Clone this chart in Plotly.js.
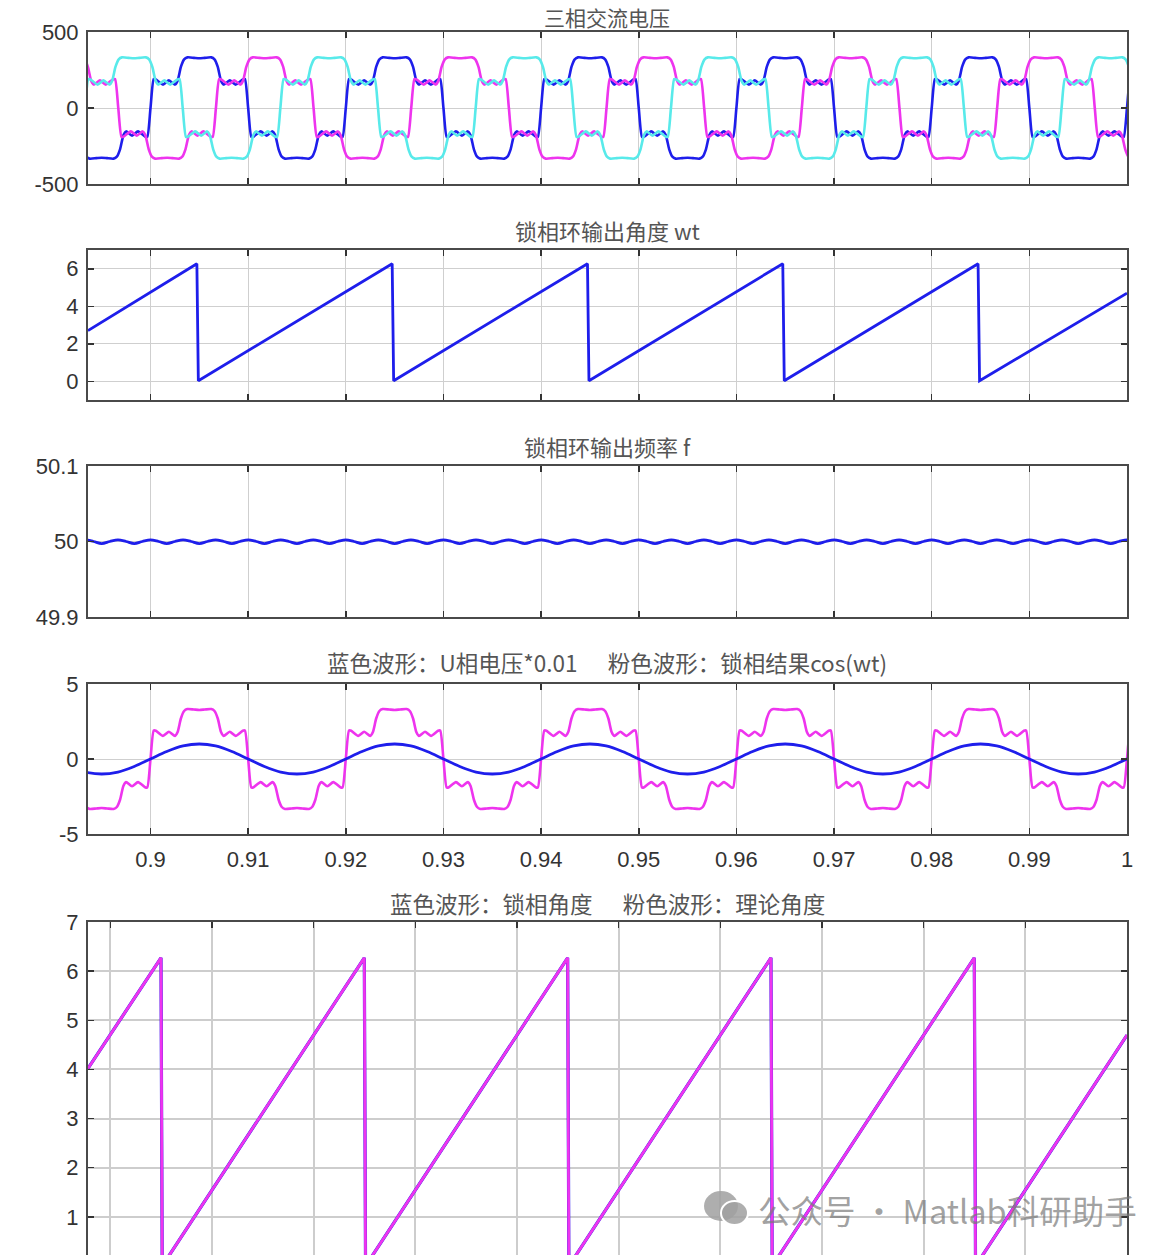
<!DOCTYPE html>
<html><head><meta charset="utf-8">
<script src="https://cdn.plot.ly/plotly-3.0.1.min.js"></script>
<style>
html,body{margin:0;padding:0;background:#fff;overflow:hidden;width:1171px;height:1255px}
#wrap{width:1171px;height:1255px;overflow:hidden;position:relative}
#plot{width:1171px;height:1300px}
</style>
</head><body><div id="wrap"><div id="plot"></div></div>
<script>
// ---------------- data ----------------
// time axis (s)
const xRange14 = [0.8936, 1.0];
const xRange5 = [0.8978, 1.0];
const xTickVals = [0.9, 0.91, 0.92, 0.93, 0.94, 0.95, 0.96, 0.97, 0.98, 0.99, 1.0];
const xTickLabels = ['0.9', '0.91', '0.92', '0.93', '0.94', '0.95', '0.96', '0.97', '0.98', '0.99', '1'];

// one cycle of phase voltage (V) vs. phase (deg) measured from the positive-plateau centre
const cycleDeg = [-180, -170, -158, -152, -146, -140, -135, -124, -113, -100, -96, -90, -84, -80, -67, -56, -45, -40, -34, -28, -22, -10, 0, 10, 22, 28, 34, 40, 45, 56, 67, 80, 84, 90, 96, 100, 113, 124, 135, 140, 146, 152, 158, 170];
const cycleVolt = [-327, -330, -333, -320, -270, -180, -154, -182, -154, -188, -190, 0, 190, 188, 154, 182, 154, 180, 270, 320, 333, 330, 327, 330, 333, 320, 270, 180, 154, 182, 154, 188, 190, 0, -190, -188, -154, -182, -154, -180, -270, -320, -333, -330];
// plateau-centre times of the three phases (s) and period
const peakBlue = 0.9050, peakMagenta = 0.9117, peakCyan = 0.8983;
const period = 0.02;

// PLL angle wt (rad): sawtooth corner points
const wtTime = [0.8936, 0.90475, 0.90490, 0.92475, 0.92490, 0.94475, 0.94490, 0.96475, 0.96490, 0.98475, 0.98490, 1.0];
const wtVal  = [2.70, 6.27, 0.03, 6.27, 0.03, 6.27, 0.03, 6.27, 0.03, 6.27, 0.03, 4.70];

// bottom panel: locked angle (blue) and theoretical angle (pink), sawtooth corner points
const lockTime = [0.8978, 0.90498, 0.90510, 0.92498, 0.92510, 0.94498, 0.94510, 0.96498, 0.96510, 0.98498, 0.98510, 1.0];
const lockVal  = [4.02, 6.27, 0.00, 6.27, 0.00, 6.27, 0.00, 6.27, 0.00, 6.27, 0.00, 4.70];
const thTime = [0.8978, 0.90498, 0.90510, 0.92498, 0.92510, 0.94498, 0.94510, 0.96498, 0.96510, 0.98498, 0.98510, 1.0];
const thVal  = [4.02, 6.27, 0.00, 6.27, 0.00, 6.27, 0.00, 6.27, 0.00, 6.27, 0.00, 4.70];

// PLL frequency ripple: one ripple period (s) and its shape
const ripplePeriod = 0.02 / 6;
const rippleFrac = [0, 0.25, 0.5, 0.75];
const rippleVal = [50.0022, 50.0000, 49.9972, 50.0000];
const rippleStart = 0.8900;

// cos(wt) one cycle, phase (deg) from its peak
const cosDeg = [-180, -150, -120, -90, -60, -30, 0, 30, 60, 90, 120, 150];
const cosVal = [-1.0, -0.87, -0.5, 0.0, 0.5, 0.87, 1.0, 0.87, 0.5, 0.0, -0.5, -0.87];
const cosPeak = 0.9050;

// ---------------- build series from the read shapes ----------------
function tile(peak, per, degs, vals, scale, tmin, tmax) {
  const xs = [], ys = [];
  for (let k = -3; k <= 8; k++) {
    for (let i = 0; i < degs.length; i++) {
      const t = peak + k * per + degs[i] / 360 * per;
      if (t >= tmin - 0.002 && t <= tmax + 0.002) { xs.push(t); ys.push(vals[i] * scale); }
    }
  }
  return [xs, ys];
}
function tileFrac(start, per, fr, vals, tmin, tmax) {
  const xs = [], ys = [];
  for (let k = -2; k < 60; k++) {
    for (let i = 0; i < fr.length; i++) {
      const t = start + (k + fr[i]) * per;
      if (t >= tmin - 0.002 && t <= tmax + 0.002) { xs.push(t); ys.push(vals[i]); }
    }
  }
  return [xs, ys];
}

const [ub_x, ub_y] = tile(peakBlue, period, cycleDeg, cycleVolt, 1, xRange14[0], xRange14[1]);
const [um_x, um_y] = tile(peakMagenta, period, cycleDeg, cycleVolt, 1, xRange14[0], xRange14[1]);
const [uc_x, uc_y] = tile(peakCyan, period, cycleDeg, cycleVolt, 1, xRange14[0], xRange14[1]);
const [u4_x, u4_y] = tile(peakBlue, period, cycleDeg, cycleVolt, 0.01, xRange14[0], xRange14[1]);
const [c4_x, c4_y] = tile(cosPeak, period, cosDeg, cosVal, 1, xRange14[0], xRange14[1]);
const [f_x, f_y] = tileFrac(rippleStart, ripplePeriod, rippleFrac, rippleVal, xRange14[0], xRange14[1]);

const BLUE = 'rgb(30,30,235)', MAG = 'rgb(238,52,238)', CYAN = 'rgb(88,234,234)';
const sm = {shape: 'spline', smoothing: 0.6};

const traces = [
  {x: ub_x, y: ub_y, xaxis: 'x', yaxis: 'y', mode: 'lines', line: Object.assign({color: BLUE, width: 2.6}, sm)},
  {x: um_x, y: um_y, xaxis: 'x', yaxis: 'y', mode: 'lines', line: Object.assign({color: MAG, width: 2.6}, sm)},
  {x: uc_x, y: uc_y, xaxis: 'x', yaxis: 'y', mode: 'lines', line: Object.assign({color: CYAN, width: 2.6}, sm)},
  {x: wtTime, y: wtVal, xaxis: 'x2', yaxis: 'y2', mode: 'lines', line: {color: BLUE, width: 2.8}},
  {x: f_x, y: f_y, xaxis: 'x3', yaxis: 'y3', mode: 'lines', line: {color: BLUE, width: 2.8, shape: 'spline', smoothing: 1}},
  {x: u4_x, y: u4_y, xaxis: 'x4', yaxis: 'y4', mode: 'lines', line: Object.assign({color: MAG, width: 2.6}, sm)},
  {x: c4_x, y: c4_y, xaxis: 'x4', yaxis: 'y4', mode: 'lines', line: {color: BLUE, width: 2.8, shape: 'spline', smoothing: 1}},
  {x: lockTime, y: lockVal, xaxis: 'x5', yaxis: 'y5', mode: 'lines', line: {color: BLUE, width: 3.2}},
  {x: thTime, y: thVal, xaxis: 'x5', yaxis: 'y5', mode: 'lines', line: {color: MAG, width: 2.8}}
];

const W = 1171, H = 1300;
const px = v => v / W;
const py = v => 1 - v / H;
const xDom = [px(88), px(1127)];
const tickFont = {family: 'Liberation Sans, Arial, sans-serif', size: 22, color: '#333'};

function ax(extra) {
  return Object.assign({
    showline: true, linecolor: '#4a4a4a', linewidth: 2, mirror: 'allticks',
    ticks: 'inside', ticklen: 6, tickwidth: 1.5, tickcolor: '#333',
    showgrid: true, gridcolor: '#cfcfcf', gridwidth: 1, zeroline: false,
    tickfont: tickFont, fixedrange: true
  }, extra);
}
function xax(anchor, showLabels) {
  return ax({domain: xDom, anchor: anchor, range: xRange14, tickmode: 'array',
    tickvals: xTickVals, ticktext: xTickLabels, showticklabels: showLabels, ticklabelstandoff: 5});
}
const ySt = 3;

const layout = {
  width: W, height: H, paper_bgcolor: '#fff', plot_bgcolor: '#fff', showlegend: false,
  margin: {l: 0, r: 0, t: 0, b: 0},
  xaxis: xax('y', false),
  yaxis: ax({domain: [py(184), py(32)], anchor: 'x', range: [-500, 500], tickmode: 'array', tickvals: [-500, 0, 500], ticktext: ['-500', '0', '500'], ticklabelstandoff: ySt}),
  xaxis2: xax('y2', false),
  yaxis2: ax({domain: [py(400), py(250)], anchor: 'x2', range: [-1, 7], tickmode: 'array', tickvals: [0, 2, 4, 6], ticktext: ['0', '2', '4', '6'], ticklabelstandoff: ySt}),
  xaxis3: xax('y3', false),
  yaxis3: ax({domain: [py(617), py(466)], anchor: 'x3', range: [49.9, 50.1], tickmode: 'array', tickvals: [49.9, 50, 50.1], ticktext: ['49.9', '50', '50.1'], ticklabelstandoff: ySt}),
  xaxis4: xax('y4', true),
  yaxis4: ax({domain: [py(834), py(684)], anchor: 'x4', range: [-5, 5], tickmode: 'array', tickvals: [-5, 0, 5], ticktext: ['-5', '0', '5'], ticklabelstandoff: ySt}),
  xaxis5: ax({domain: xDom, anchor: 'y5', range: xRange5, tickmode: 'array', tickvals: xTickVals, ticktext: xTickLabels, showticklabels: false, gridcolor: '#cdcdcd', gridwidth: 2}),
  yaxis5: ax({domain: [py(1266), py(922)], anchor: 'x5', range: [0, 7], tickmode: 'array', tickvals: [1, 2, 3, 4, 5, 6, 7], ticktext: ['1', '2', '3', '4', '5', '6', '7'], gridcolor: '#cdcdcd', gridwidth: 2, ticklabelstandoff: ySt}),
  annotations: [],
  shapes: []
};

const cjk = 'Noto Sans CJK SC, sans-serif';
function title(text, y, size, anchor) {
  layout.annotations.push({text: text, xref: 'paper', yref: 'paper', x: px(607.5), y: py(y),
    xanchor: 'center', yanchor: anchor || 'middle', showarrow: false, borderpad: 0,
    font: {family: cjk, size: size, color: '#555'}});
}
title('三相交流电压', 1, 21, 'top');
title('锁相环输出角度 wt', 230, 22);
title('锁相环输出频率 f', 446, 22);
title('蓝色波形：U相电压*0.01&nbsp;&nbsp;&nbsp;&nbsp;&nbsp;&nbsp;粉色波形：锁相结果cos(wt)', 662, 22.5);
title('蓝色波形：锁相角度&nbsp;&nbsp;&nbsp;&nbsp;&nbsp;&nbsp;粉色波形：理论角度', 903, 22.5);

// watermark
layout.annotations.push({text: '公众号 · Matlab科研助手', xref: 'paper', yref: 'paper', x: px(756), y: py(1209),
  xanchor: 'left', yanchor: 'middle', showarrow: false,
  font: {family: cjk, size: 32.5, color: 'rgba(120,120,120,0.7)'}});
const wmCol = 'rgba(160,160,160,0.85)';
layout.shapes.push({type: 'circle', xref: 'paper', yref: 'paper', x0: px(704), x1: px(738), y0: py(1221), y1: py(1191), fillcolor: wmCol, line: {width: 0}});
layout.shapes.push({type: 'circle', xref: 'paper', yref: 'paper', x0: px(721), x1: px(748), y0: py(1225), y1: py(1201), fillcolor: wmCol, line: {color: '#fff', width: 2}});
</script>
<script>
Plotly.newPlot('plot', traces, layout, {staticPlot: true, displayModeBar: false});
</script>
</body></html>
